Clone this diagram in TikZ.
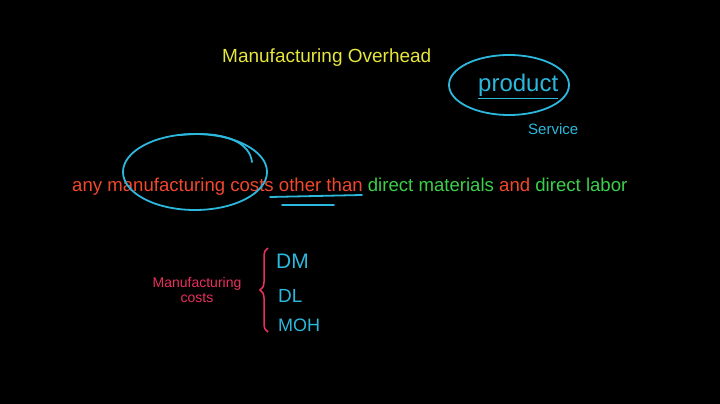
\documentclass[tikz,border=0pt]{standalone}
\usepackage{fontspec}
\setmainfont{Liberation Sans}
\usetikzlibrary{decorations.pathreplacing}
\definecolor{yel}{HTML}{E6E63C}
\definecolor{cya}{HTML}{2CB8DC}
\definecolor{ora}{HTML}{F0482C}
\definecolor{grn}{HTML}{3CD04A}
\definecolor{pnk}{HTML}{E8305C}
\begin{document}
\begin{tikzpicture}[x=1pt,y=-1pt,
  txt/.style={inner sep=0pt,anchor=base west},
  pen/.style={line width=1.8pt,line cap=round,draw=cya}]
\fill[black] (0,0) rectangle (720,404);
\useasboundingbox (0,0) rectangle (720,404);
\node[txt,text=yel,font=\fontsize{19}{22}\selectfont] (title) at (222,63) {Manufacturing Overhead};
\node[txt,text=cya,font=\fontsize{24}{26}\selectfont] (prod) at (478,92) {\underline{product}};
\node[txt,text=cya,font=\fontsize{15}{18}\selectfont] (serv) at (528,134) {Service};
\draw[pen] (509,85) ellipse [x radius=60,y radius=30];
\node[txt,font=\fontsize{18.6}{21}\selectfont] (line) at (72,191) {\textcolor{ora}{any manufacturing costs other than} \textcolor{grn}{direct materials} \textcolor{ora}{and} \textcolor{grn}{direct labor}};
\draw[pen] (195,172) ellipse [x radius=72,y radius=38];
\draw[pen] (180,135) .. controls (230,130) and (250,145) .. (252,162);
\draw[pen] (270,197) -- (362,195);
\draw[pen] (282,205) -- (334,205);
\node[align=center,text=pnk,font=\fontsize{14}{15}\selectfont,inner sep=0pt] (mc) at (197,290) {Manufacturing\\costs};
\draw[pnk,line width=1.5pt,decorate,decoration={brace,amplitude=8pt}] (268,332) -- (268,248);
\node[txt,text=cya,font=\fontsize{21}{24}\selectfont] (dm) at (276,268) {DM};
\node[txt,text=cya,font=\fontsize{19}{22}\selectfont] (dl) at (278,302) {DL};
\node[txt,text=cya,font=\fontsize{18}{21}\selectfont] (moh) at (278,331) {MOH};
\end{tikzpicture}
\end{document}
